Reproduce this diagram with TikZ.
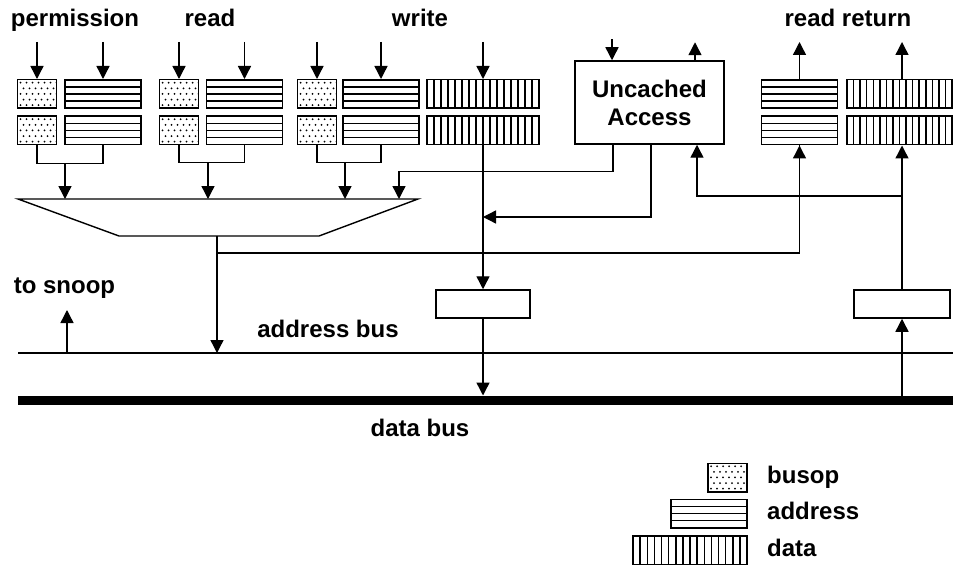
\documentclass[tikz,border=0pt]{standalone}
\usepackage{fontspec}
\setmainfont{Liberation Sans}
\usetikzlibrary{arrows.meta,calc}

\newcommand{\lbl}{\fontsize{24}{29}\selectfont\bfseries}

\tikzset{
  conn/.style={line width=1.4pt},
  arr/.style={conn, -{Triangle[width=13pt,length=13pt]}},
  reg/.style={draw, line width=1.5pt, rectangle, inner sep=0pt, minimum height=28.5pt},
  busopreg/.style={reg, minimum width=39pt, path picture={
      \foreach \i in {0,...,6}{\foreach \j in {0,...,4}{
        \fill[black] ($(path picture bounding box.north west)+({3+\i*6+mod(\j,2)*3},{3+\j*5.6})$) circle (1.0);}}}},
  addrreg/.style={reg, minimum width=76pt, path picture={
      \draw[black, line width=2.4pt] (path picture bounding box.north west) -- (path picture bounding box.north east);
      \foreach \k in {1,2,3}{\draw[black, line width=1.6pt]
        ($(path picture bounding box.north west)!\k/4!(path picture bounding box.south west)$) --
        ($(path picture bounding box.north east)!\k/4!(path picture bounding box.south east)$);}}},
  datareg/.style={reg, minimum width=112pt, path picture={
      \foreach \k in {1,...,15}{\draw[black, line width=1.5pt]
        ($(path picture bounding box.north west)!\k/16!(path picture bounding box.north east)$) --
        ($(path picture bounding box.south west)!\k/16!(path picture bounding box.south east)$);}}},
  plainreg/.style={reg, minimum height=28pt},
  txt/.style={font=\lbl, inner sep=0pt, anchor=base},
  legtxt/.style={font=\lbl, inner sep=0pt, anchor=base west},
}

\begin{document}
\begin{tikzpicture}[x=1pt,y=-1pt]
\useasboundingbox (0,0) rectangle (953,567);

% headings
\node[txt] (tperm) at (75,27) {permission};
\node[txt] (tread) at (210,27) {read};
\node[txt] (twrite) at (420,27) {write};
\node[txt] (tret) at (848,27) {read return};

% permission queue
\node[busopreg] (pb1) at (37,94) {};
\node[busopreg] (pb2) at (37,130.5) {};
\node[addrreg] (pa1) at (103,94) {};
\node[addrreg] (pa2) at (103,130.5) {};

% read queue
\node[busopreg] (rb1) at (179,94) {};
\node[busopreg] (rb2) at (179,130.5) {};
\node[addrreg] (ra1) at (244.5,94) {};
\node[addrreg] (ra2) at (244.5,130.5) {};

% write queue
\node[busopreg] (wb1) at (317,94) {};
\node[busopreg] (wb2) at (317,130.5) {};
\node[addrreg] (wa1) at (381,94) {};
\node[addrreg] (wa2) at (381,130.5) {};
\node[datareg] (wd1) at (483,94) {};
\node[datareg] (wd2) at (483,130.5) {};

% uncached access unit
\node[draw, line width=1.5pt, minimum width=149pt, minimum height=83pt, inner sep=0pt,
      align=center, font=\lbl] (ua) at (649.5,102.5) {Uncached\\[-1pt]Access};

% read return queue
\node[addrreg] (qa1) at (799.5,94) {};
\node[addrreg] (qa2) at (799.5,130.5) {};
\node[datareg, minimum width=105pt] (qd1) at (899.5,94) {};
\node[datareg, minimum width=105pt] (qd2) at (899.5,130.5) {};

% bus interface registers
\node[plainreg, minimum width=94pt] (wq) at (483,304) {};
\node[plainreg, minimum width=96pt] (rq) at (902,304) {};

% input arrows into the queues
\foreach \n in {pb1,pa1,rb1,ra1,wb1,wa1,wd1}{
  \draw[arr] ([yshift=37pt]\n.north) -- (\n.north);
}
\draw[arr] ([shift={(-37.5,-21)}]ua.north) -- ([xshift=-37.5pt]ua.north);
\draw[arr] ([xshift=45.5pt]ua.north) -- ++(0,-18);
\draw[arr] (qa1.north) -- ++(0,-37);
\draw[arr] (rq.north |- qd1.north) -- ++(0,-37);

% selector
\coordinate (mtl) at (18,199);
\coordinate (mtr) at (418,199);
\coordinate (mbr) at (319,236);
\coordinate (mbl) at (119,236);
\coordinate (mo) at (217,236);
\draw[conn] (mtl) -- (mtr) -- (mbr) -- (mbl) -- cycle;

% queue heads into the selector
\draw[conn] (pb2.south) -- ++(0,18) -| (pa2.south);
\coordinate (pj) at (65,163);
\draw[arr] (pj) -- (pj |- mtl);
\draw[conn] (rb2.south) -- ++(0,17) -| (ra2.south);
\coordinate (rj) at (208,162);
\draw[arr] (rj) -- (rj |- mtl);
\draw[conn] (wb2.south) -- ++(0,17) -| (wa2.south);
\coordinate (wj) at (345,162);
\draw[arr] (wj) -- (wj |- mtl);
\coordinate (uj) at (399,199);
\draw[arr] ([xshift=-36.5pt]ua.south) -- ++(0,27) -| (uj);

% buses
\coordinate (abl) at (18,353);
\coordinate (abr) at (953,353);
\coordinate (dbl) at (18,400);
\coordinate (dbr) at (953,400);
\coordinate (dbt) at (18,395.5);
\draw[line width=1.3pt] (abl) -- (abr);
\draw[line width=9pt] (dbl) -- (dbr);

% address path
\draw[arr] (mo) -- (mo |- abl);
\coordinate (aj) at (217,253);
\draw[conn] (aj) -| (qa2.south);
\draw[arr] (aj -| qa2.south) -- (qa2.south);
\coordinate (sn) at (67,353);
\draw[arr] (sn) -- ++(0,-43);

% write data path
\draw[arr] (wd2.south) -- (wq.north);
\coordinate (dj) at (483,217);
\draw[arr] ([xshift=1.5pt]ua.south) |- (dj);
\draw[arr] (wq.south) -- (wq.south |- dbt);

% read data path
\draw[arr] (rq.south |- dbt) -- (rq.south);
\draw[arr] (rq.north) -- (rq.north |- qd2.south);
\coordinate (rr) at (902,196);
\draw[arr] (rr) -| ([xshift=47.5pt]ua.south);

% bus labels
\node[txt] (tsnoop) at (64.5,293) {to snoop};
\node[txt] (tab) at (328,337) {address bus};
\node[txt] (tdb) at (420,436) {data bus};

% key
\node[busopreg] (kb) at (727.5,477.5) {};
\node[addrreg] (ka) at (709,513.5) {};
\node[datareg, minimum width=114pt] (kd) at (690,550) {};
\node[legtxt] (kbt) at (767,483) {busop};
\node[legtxt] (kat) at (767,519) {address};
\node[legtxt] (kdt) at (767,556) {data};
\end{tikzpicture}
\end{document}
